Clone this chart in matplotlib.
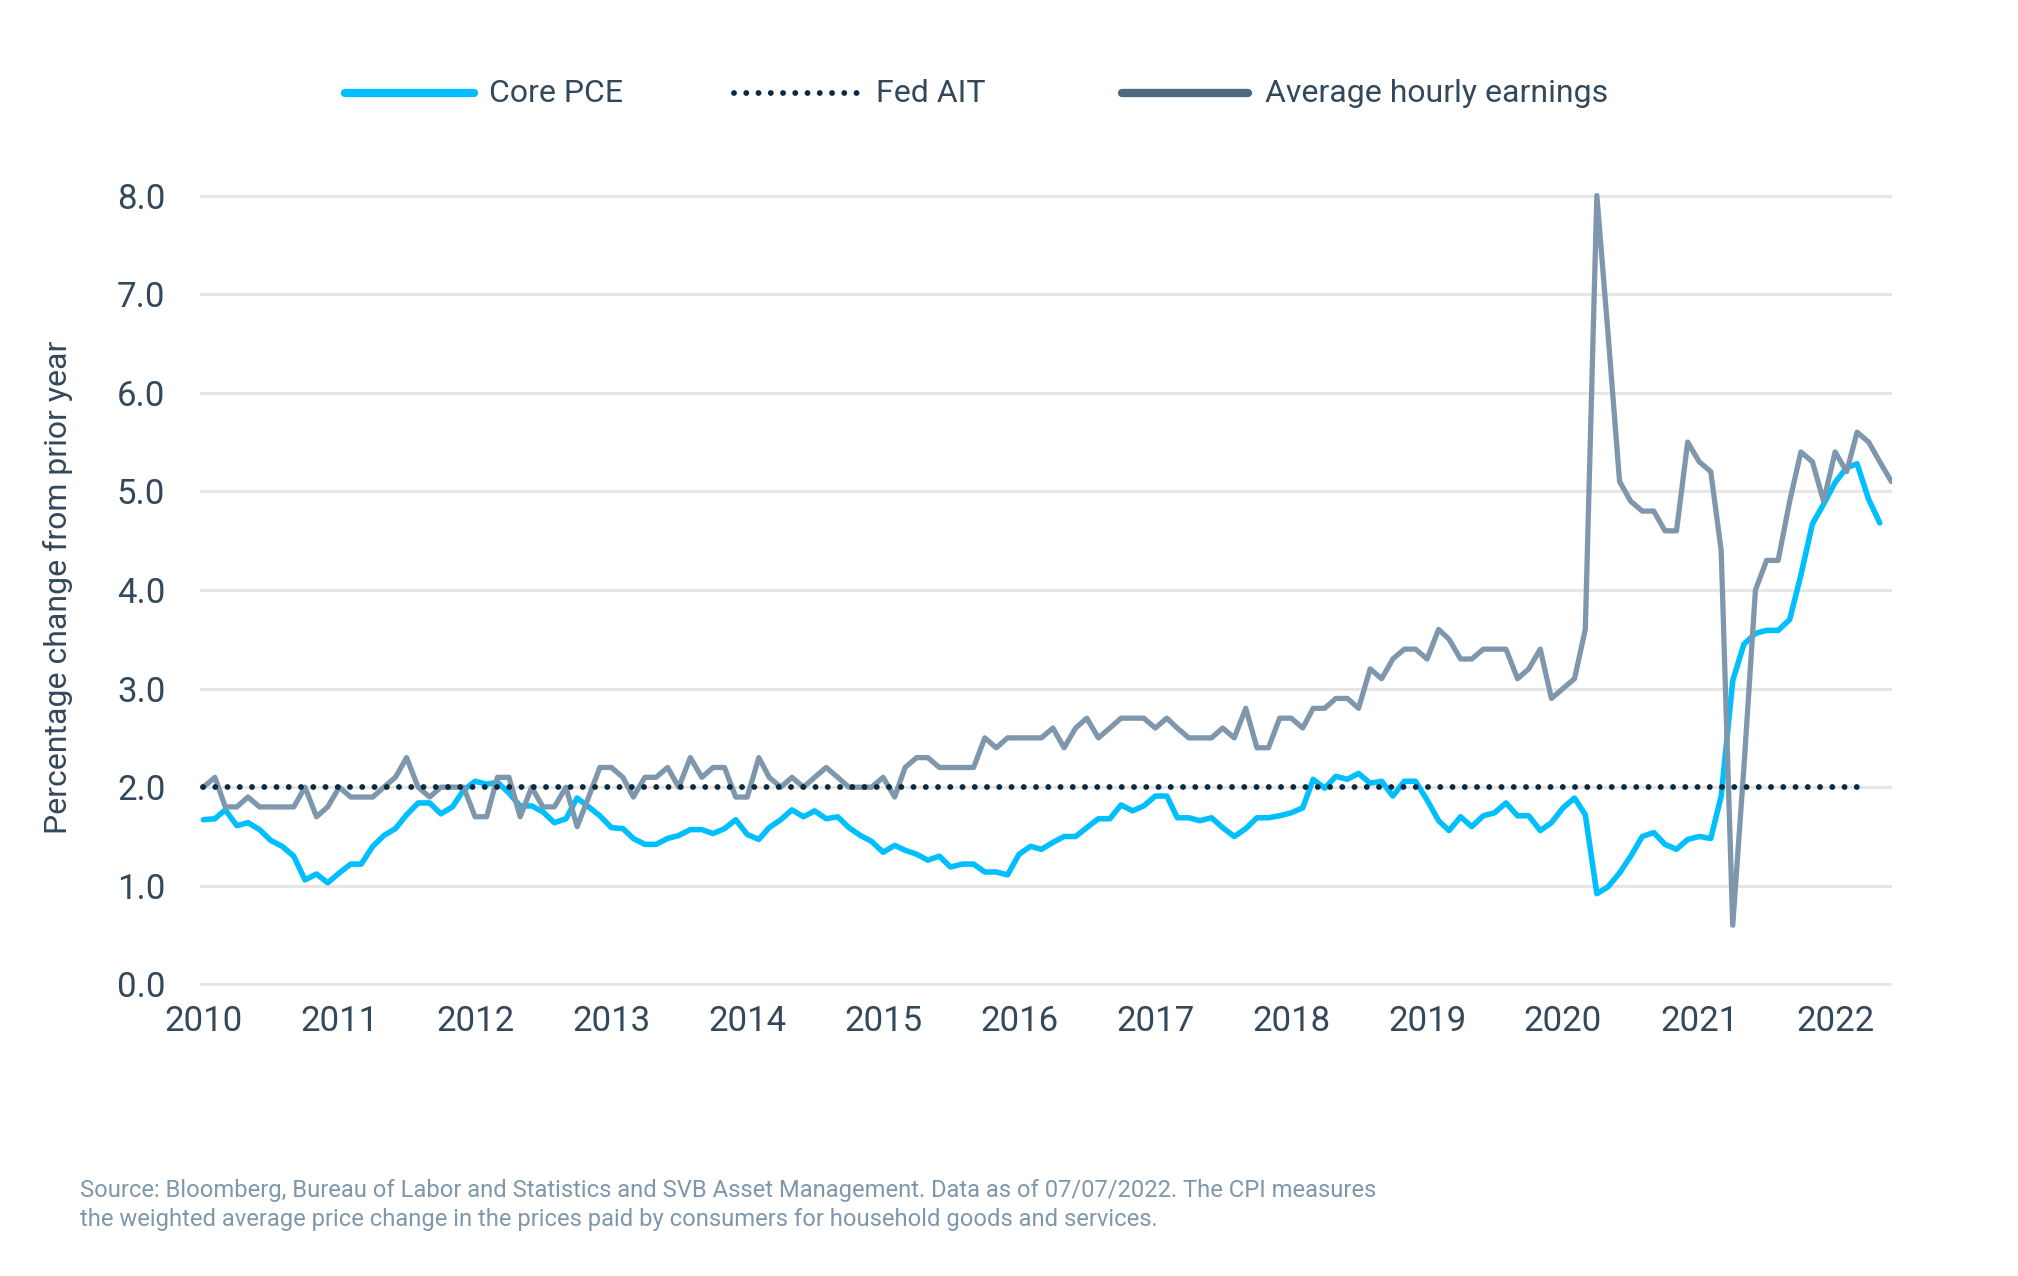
import numpy as np
import pandas as pd
import matplotlib
matplotlib.use("Agg")
import matplotlib.pyplot as plt
import matplotlib.dates as mdates
from matplotlib.lines import Line2D

plt.rcParams['font.family'] = ['Roboto', 'DejaVu Sans']

# monthly data, Jan 2010 onward
ahe = [2.0, 2.1, 1.8, 1.8, 1.9, 1.8, 1.8, 1.8, 1.8, 2.0, 1.7, 1.8,
       2.0, 1.9, 1.9, 1.9, 2.0, 2.1, 2.3, 2.0, 1.9, 2.0, 2.0, 2.0,
       1.7, 1.7, 2.1, 2.1, 1.7, 2.0, 1.8, 1.8, 2.0, 1.6, 1.9, 2.2,
       2.2, 2.1, 1.9, 2.1, 2.1, 2.2, 2.0, 2.3, 2.1, 2.2, 2.2, 1.9,
       1.9, 2.3, 2.1, 2.0, 2.1, 2.0, 2.1, 2.2, 2.1, 2.0, 2.0, 2.0,
       2.1, 1.9, 2.2, 2.3, 2.3, 2.2, 2.2, 2.2, 2.2, 2.5, 2.4, 2.5,
       2.5, 2.5, 2.5, 2.6, 2.4, 2.6, 2.7, 2.5, 2.6, 2.7, 2.7, 2.7,
       2.6, 2.7, 2.6, 2.5, 2.5, 2.5, 2.6, 2.5, 2.8, 2.4, 2.4, 2.7,
       2.7, 2.6, 2.8, 2.8, 2.9, 2.9, 2.8, 3.2, 3.1, 3.3, 3.4, 3.4,
       3.3, 3.6, 3.5, 3.3, 3.3, 3.4, 3.4, 3.4, 3.1, 3.2, 3.4, 2.9,
       3.0, 3.1, 3.6, 8.0, 6.6, 5.1, 4.9, 4.8, 4.8, 4.6, 4.6, 5.5,
       5.3, 5.2, 4.4, 0.6, 2.2, 4.0, 4.3, 4.3, 4.9, 5.4, 5.3, 4.9,
       5.4, 5.2, 5.6, 5.5, 5.3, 5.1]

core_pce = [1.67, 1.68, 1.77, 1.61, 1.64, 1.57, 1.46, 1.40, 1.30, 1.06, 1.12, 1.03,
            1.13, 1.22, 1.22, 1.40, 1.51, 1.58, 1.72, 1.84, 1.84, 1.73, 1.80, 1.97,
            2.06, 2.03, 2.05, 1.94, 1.81, 1.81, 1.75, 1.64, 1.68, 1.89, 1.80, 1.71,
            1.59, 1.58, 1.48, 1.42, 1.42, 1.48, 1.51, 1.57, 1.57, 1.53, 1.58, 1.67,
            1.52, 1.47, 1.59, 1.67, 1.77, 1.70, 1.76, 1.68, 1.70, 1.59, 1.51, 1.45,
            1.34, 1.41, 1.36, 1.32, 1.26, 1.30, 1.19, 1.22, 1.22, 1.14, 1.14, 1.11,
            1.32, 1.40, 1.37, 1.44, 1.50, 1.50, 1.59, 1.68, 1.68, 1.82, 1.76, 1.81,
            1.91, 1.91, 1.69, 1.69, 1.66, 1.69, 1.59, 1.50, 1.58, 1.69, 1.69, 1.71,
            1.74, 1.79, 2.08, 1.99, 2.11, 2.08, 2.14, 2.04, 2.06, 1.91, 2.06, 2.06,
            1.87, 1.66, 1.56, 1.70, 1.60, 1.71, 1.74, 1.84, 1.71, 1.71, 1.56, 1.64,
            1.79, 1.89, 1.72, 0.92, 0.99, 1.13, 1.30, 1.50, 1.54, 1.42, 1.37, 1.47,
            1.50, 1.48, 1.91, 3.08, 3.45, 3.56, 3.59, 3.59, 3.70, 4.15, 4.67, 4.87,
            5.09, 5.24, 5.28, 4.92, 4.68]

fed_ait = 2.0
fed_start = "2010-01-01"
fed_end = "2022-03-05"

ahe_dates = pd.date_range("2010-01-01", periods=len(ahe), freq="MS")
pce_dates = pd.date_range("2010-01-01", periods=len(core_pce), freq="MS")

cyan = "#00BFFF"
grey = "#7F97AC"
grey_dark = "#4E6A7F"
navy = "#0A2A3F"
txt = "#33485B"

fig = plt.figure(figsize=(20.18, 12.76), dpi=100)
ax = fig.add_axes([0.0991, 0.2208, 0.8385, 0.6414])

ax.plot(pce_dates, core_pce, color=cyan, lw=4.0, zorder=2, solid_joinstyle='round', solid_capstyle='round')
ax.plot(ahe_dates, ahe, color=grey, lw=3.8, zorder=3, solid_joinstyle='round', solid_capstyle='round')
ax.plot(pd.to_datetime([fed_start, fed_end]), [fed_ait, fed_ait], color=navy, lw=4.2,
        dashes=(0.01, 2.09), dash_capstyle='round', zorder=4)

ax.set_ylim(-0.1, 8.2)
ax.set_xlim(pd.Timestamp("2009-12-23"), pd.Timestamp("2022-06-03"))
ax.set_yticks(np.arange(0, 9, 1))
ax.set_yticklabels([f"{v:.1f}" for v in range(9)])
ax.xaxis.set_major_locator(mdates.YearLocator())
ax.xaxis.set_major_formatter(mdates.DateFormatter("%Y"))

ax.grid(axis='y', color="#E6E6E6", lw=2.2, zorder=0)
ax.set_axisbelow(True)
for s in ax.spines.values():
    s.set_visible(False)
ax.tick_params(axis='both', length=0, labelsize=25, labelcolor=txt)
ax.tick_params(axis='y', pad=25)
ax.tick_params(axis='x', pad=8)

fig.text(58 / 2018, 1 - 587 / 1276, "Percentage change from prior year", rotation=90,
         ha='center', va='center', fontsize=23, color=txt)

# legend
ly = 1 - 93 / 1276
items = [(345, 474, 489, "Core PCE", cyan, '-'),
         (734, 862, 876, "Fed AIT", navy, ':'),
         (1122, 1248, 1265, "Average hourly earnings", grey_dark, '-')]
for x0, x1, xt, label, c, ls in items:
    if ls == ':':
        ln = Line2D([x0 / 2018, x1 / 2018], [ly, ly], transform=fig.transFigure, color=c,
                    lw=4.2, dashes=(0.01, 2.09), dash_capstyle='round')
    else:
        ln = Line2D([x0 / 2018, x1 / 2018], [ly, ly], transform=fig.transFigure, color=c,
                    lw=6, solid_capstyle='round')
    fig.add_artist(ln)
    fig.text(xt / 2018, ly, label, ha='left', va='center', fontsize=23, color=txt)

fig.text(80 / 2018, 1 - 1205 / 1276,
         "Source: Bloomberg, Bureau of Labor and Statistics and SVB Asset Management. Data as of 07/07/2022. The CPI measures\n"
         "the weighted average price change in the prices paid by consumers for household goods and services.",
         ha='left', va='center', fontsize=17.1, color="#7F97AB", linespacing=1.3)

fig.savefig("out.png", dpi=100)
